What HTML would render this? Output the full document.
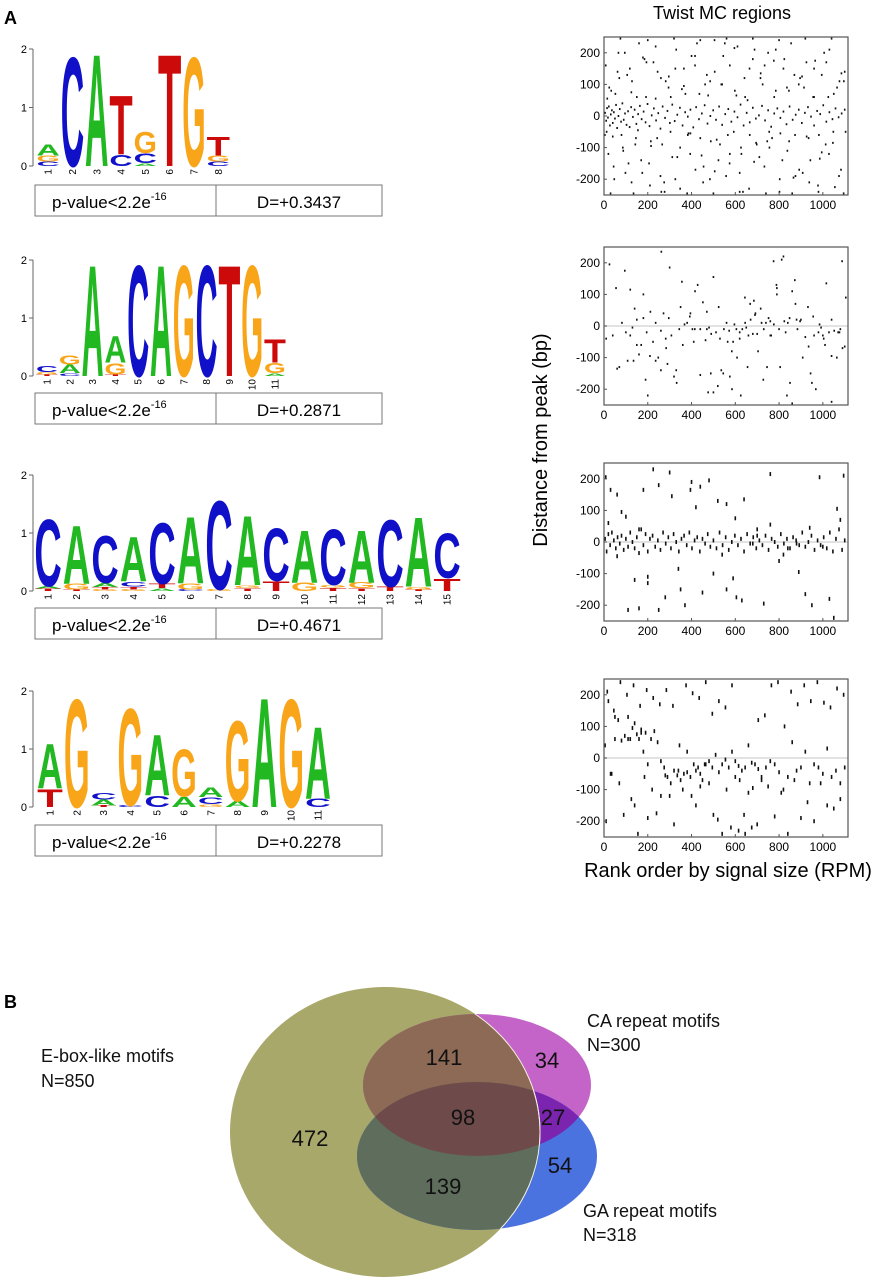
<!DOCTYPE html>
<html><head><meta charset="utf-8"><style>
html,body{margin:0;padding:0;background:#fff;}
svg{display:block;font-family:"Liberation Sans",sans-serif;}
</style></head><body>
<svg id="fig" width="887" height="1280" viewBox="0 0 887 1280" xmlns="http://www.w3.org/2000/svg">
<text x="4" y="24" font-size="18" font-weight="bold">A</text>
<text x="4" y="1008" font-size="18" font-weight="bold">B</text>
<text x="722" y="19" font-size="18" text-anchor="middle">Twist MC regions</text>
<text x="0" y="0" font-size="20" text-anchor="middle" transform="translate(547,440) rotate(-90)">Distance from peak (bp)</text>
<text x="728" y="877" font-size="20" text-anchor="middle">Rank order by signal size (RPM)</text>
<g id="logos"></g>
<g id="scatters"></g>
<g id="venn">
<defs>
<clipPath id="clipBig"><ellipse cx="385" cy="1132" rx="155" ry="145"/></clipPath>
<clipPath id="clipCA"><ellipse cx="477" cy="1085" rx="114" ry="71"/></clipPath>
<clipPath id="clipGA"><ellipse cx="477" cy="1156" rx="120" ry="74"/></clipPath>
</defs>
<ellipse cx="385" cy="1132" rx="155" ry="145" fill="#a8a86a"/>
<ellipse cx="477" cy="1085" rx="114" ry="71" fill="#c464c8"/>
<ellipse cx="477" cy="1156" rx="120" ry="74" fill="#4b73e0"/>
<g clip-path="url(#clipCA)"><ellipse cx="477" cy="1156" rx="120" ry="74" fill="#7a24b0"/></g>
<g clip-path="url(#clipBig)">
<ellipse cx="477" cy="1085" rx="114" ry="71" fill="#8d6a56"/>
<ellipse cx="477" cy="1156" rx="120" ry="74" fill="#5f6e5c"/>
<g clip-path="url(#clipCA)"><ellipse cx="477" cy="1156" rx="120" ry="74" fill="#6e4b4a"/></g>
</g>
<ellipse cx="385" cy="1132" rx="155" ry="145" fill="none" stroke="#f4f0e0" stroke-width="1" clip-path="url(#clipCA)"/>
<ellipse cx="385" cy="1132" rx="155" ry="145" fill="none" stroke="#f4f0e0" stroke-width="1" clip-path="url(#clipGA)"/>
<g font-size="22" text-anchor="middle" fill="#111">
<text x="444" y="1065">141</text>
<text x="547" y="1068">34</text>
<text x="463" y="1125">98</text>
<text x="553" y="1125">27</text>
<text x="310" y="1146">472</text>
<text x="560" y="1173">54</text>
<text x="443" y="1194">139</text>
</g>
<g font-size="18" fill="#111">
<text x="41" y="1062">E-box-like motifs</text>
<text x="41" y="1087">N=850</text>
<text x="587" y="1027">CA repeat motifs</text>
<text x="587" y="1051">N=300</text>
<text x="583" y="1217">GA repeat motifs</text>
<text x="583" y="1241">N=318</text>
</g>
</g>
</svg>
<script>
const NS='http://www.w3.org/2000/svg';
const BASE_COLORS={A:'#22b822',C:'#1010c8',G:'#f9a51a',T:'#cc0a0a'};
// motif logo columns: [letter, bits] bottom to top
const logo1Cols=[[['C',.08],['G',.1],['A',.2]],[['C',1.95]],[['A',2.0]],[['C',.2],['T',1.05]],[['A',.05],['C',.17],['G',.38]],[['T',2.0]],[['G',1.95]],[['C',.08],['G',.1],['T',.34]]];
const logo2Cols=[[['T',.03],['G',.04],['C',.1]],[['C',.05],['A',.15],['G',.16]],[['A',2.0]],[['T',.03],['G',.2],['A',.48]],[['C',2.0]],[['A',2.0]],[['G',2.0]],[['C',2.0]],[['T',2.0]],[['G',2.0]],[['A',.05],['G',.18],['T',.42]]];
const logo3Cols=[[['T',.04],['A',.05],['C',1.2]],[['T',.03],['G',.1],['A',1.05]],[['G',.03],['T',.04],['A',.07],['C',.85]],[['G',.03],['T',.05],['C',.08],['A',.8]],[['A',.05],['T',.08],['C',1.1]],[['C',.03],['G',.1],['A',1.2]],[['G',.03],['C',1.6]],[['T',.05],['G',.05],['A',1.25]],[['T',.17],['C',.95]],[['G',.15],['A',.95]],[['T',.06],['G',.05],['C',1.0]],[['T',.05],['G',.1],['A',.95]],[['T',.08],['C',1.2]],[['T',.03],['G',.05],['A',1.25]],[['T',.22],['C',.8]]];
const logo4Cols=[[['T',.32],['A',.8]],[['G',1.95]],[['T',.03],['A',.1],['C',.12]],[['C',.03],['G',1.75]],[['C',.2],['A',1.1]],[['A',.18],['G',.85]],[['G',.05],['C',.12],['A',.17]],[['A',.1],['G',1.45]],[['A',1.97]],[['G',1.95]],[['C',.15],['A',1.3]]];
const logoPvals=['p-value<2.2e','p-value<2.2e','p-value<2.2e','p-value<2.2e'];
const logoDvals=['D=+0.3437','D=+0.2871','D=+0.4671','D=+0.2278'];
const logoList=[logo1Cols,logo2Cols,logo3Cols,logo4Cols];
const logoGeom=[{left:36,w:24.3,y0:166,ppb:58.5,tb:185},{left:35.6,w:22.8,y0:376,ppb:58,tb:393},{left:33.8,w:28.5,y0:591,ppb:58,tb:608},{left:36.6,w:26.8,y0:807,ppb:58,tb:825}];

function mk(tag,attrs,parent){const e=document.createElementNS(NS,tag);for(const k in attrs)e.setAttribute(k,attrs[k]);parent.appendChild(e);return e;}
const logosG=document.getElementById('logos');
logoList.forEach((cols,li)=>{
  const g=logoGeom[li];
  const grp=mk('g',{},logosG);
  
  
  const yTop=g.y0-2*g.ppb;
  const ax=mk('path',{d:`M33,${yTop}V${g.y0}M29,${yTop}H33M29,${g.y0-g.ppb}H33M29,${g.y0}H33`,stroke:'#666','stroke-width':1,fill:'none'},grp);
  
  
  [0,1,2].forEach(b=>{const t=mk('text',{x:27,y:g.y0-b*g.ppb+4,'font-size':11,'text-anchor':'end'},grp);t.textContent=b;
    
    });
  cols.forEach((stack,ci)=>{
    let acc=0;const x=g.left+ci*g.w;
    stack.forEach(([L,h])=>{
      const hp=h*g.ppb;const yb=g.y0-acc*g.ppb;acc+=h;
      if(hp<0.5)return;
      const t=mk('text',{x:0,y:0,'font-size':100,'font-weight':'bold',textLength:70,lengthAdjust:'spacingAndGlyphs',fill:BASE_COLORS[L],transform:`translate(${x+g.w*0.02},${yb}) scale(${g.w*0.96/70},${hp/73})`},grp);
      t.textContent=L;
      
      
    });
    const n=mk('text',{x:0,y:0,'font-size':10,'text-anchor':'end',transform:`translate(${x+g.w/2+3.5},${g.y0+3}) rotate(-90)`},grp);
    n.textContent=ci+1;
    
    
  });
  const tb=mk('g',{},grp);
  
  
  mk('rect',{x:35,y:g.tb,width:347,height:31,fill:'#fff',stroke:'#777','stroke-width':1},tb);
  mk('line',{x1:216,y1:g.tb,x2:216,y2:g.tb+31,stroke:'#777','stroke-width':1},tb);
  const p=mk('text',{x:52,y:g.tb+23,'font-size':17},tb);
  p.textContent=logoPvals[li];
  
  
  const s=mk('tspan',{'font-size':11,dy:-8},p);s.textContent='-16';
  const d=mk('text',{x:299,y:g.tb+23,'font-size':17,'text-anchor':'middle'},tb);
  d.textContent=logoDvals[li];
  
  
});

// scatter data (rank, distance)
const rank1=[5,10,14,18,22,27,31,36,40,45,50,55,60,66,72,78,84,90,96,103,110,117,124,132,140,148,156,164,172,181,190,199,208,218,228,238,248,258,268,279,290,301,312,323,335,347,359,371,383,395,408,421,434,447,460,473,486,499,512,526,540,554,568,582,596,610,624,638,652,666,680,694,708,722,736,750,764,778,792,806,820,834,848,862,876,890,904,918,932,946,960,974,988,1002,1016,1030,1044,1058,1072,1086,1100,
8,20,33,47,62,80,95,112,128,143,160,175,192,210,226,243,260,277,295,312,330,348,365,383,400,418,436,453,470,488,505,523,540,558,575,593,610,628,645,663,680,698,715,733,750,768,785,803,820,838,855,873,890,908,925,943,960,978,995,1013,1030,1048,1065,1083,1100,
4,24,44,66,86,106,126,150,170,194,214,236,258,282,304,326,348,372,394,416,440,462,484,506,530,552,574,598,620,642,666,688,710,734,756,778,802,824,846,870,892,914,938,960,982,1006,1028,1050,1074,1096,
15,40,70,98,125,155,185,215,245,275,305,335,365,395,425,455,485,515,545,575,605,635,665,695,725,755,785,815,845,875,905,935,965,995,1025,1055,1085,
12,52,88,118,146,178,206,236,266,296,326,356,386,416,446,476,506,536,566,596,626,656,686,716,746,776,806,836,866,896,926,956,986,1016,1046,1076,1104,
30,75,135,200,262,320,380,440,500,560,620,680,740,800,860,920,980,1040,1095];
const dist1=[10,-15,25,-5,30,-30,5,18,-22,12,-8,35,-38,0,22,-18,40,-12,8,-28,15,-35,28,-3,20,-25,6,32,-10,14,-20,38,-32,2,24,-14,9,-40,30,-6,16,-22,36,-16,4,26,-30,12,-2,20,-36,28,-10,8,34,-24,0,18,-12,30,-28,6,22,-18,14,-4,36,-30,10,-20,26,-8,2,32,-14,18,-34,8,24,-6,14,-26,30,-12,4,20,-22,10,28,-2,-30,16,6,34,-18,12,-10,24,-4,8,20,
160,-120,80,-200,140,-60,200,-150,110,-90,230,-180,60,-220,170,-70,120,-240,90,-130,210,-100,150,-60,190,-170,70,-210,130,-80,240,-140,100,-190,160,-50,220,-120,60,-230,180,-90,120,-160,200,-70,80,-200,150,-110,230,-60,100,-180,170,-140,60,-220,130,-90,210,-50,90,-170,140,
-60,90,-160,200,-100,130,-210,60,-140,170,-80,220,-190,110,-50,150,-230,70,-120,190,-70,100,-200,140,-90,230,-150,80,-180,120,-60,210,-130,160,-100,60,-240,180,-80,130,-170,90,-210,150,-60,200,-120,70,-190,110,
55,-65,120,-180,75,-45,180,-95,140,-210,60,-130,95,-55,230,-160,110,-75,190,-120,65,-240,150,-85,100,-50,210,-140,80,-190,125,-70,175,-115,60,-225,135,
-50,70,-110,150,-70,185,-150,55,-90,125,-200,85,-55,160,-125,65,-175,100,-60,215,-100,50,-145,135,-80,175,-55,90,-195,120,-65,60,-135,170,-85,110,-50,
-245,245,-245,240,-240,245,-245,240,-245,245,-240,245,-245,240,-245,245,-240,245,-245];
const rank2=[10,25,40,55,70,82,95,108,120,130,140,150,160,170,180,190,200,212,224,236,248,260,272,284,296,308,320,332,344,356,368,380,392,404,416,428,440,452,464,476,488,500,512,524,536,548,560,572,584,596,608,620,632,644,656,668,680,692,704,716,728,740,752,764,776,788,800,812,824,836,848,860,872,884,896,908,920,932,944,956,968,980,992,1004,1016,1028,1040,1052,1064,1076,1088,1100,
120,135,180,195,210,236,262,282,300,330,360,395,415,440,470,480,490,500,520,545,565,575,585,605,625,645,660,685,700,720,745,760,775,790,805,820,840,850,860,875,900,935,960,985,1010,1040,1070,1090,1105,
60,100,150,260,290,350,410,470,530,590,620,650,670,690,730,760,790,830,880,950,1000,1040,1080];
const dist2=[-40,195,-30,120,-130,10,175,-110,115,-5,55,20,-90,-60,100,-170,-220,45,-50,10,-100,-15,40,-70,25,-30,-160,-180,-10,140,5,10,30,-10,110,130,-10,75,-45,-210,-150,155,-20,60,-140,-10,10,-15,-80,5,-100,-40,-10,90,-130,70,-25,40,-80,55,-170,10,25,-30,5,130,-10,210,15,-220,25,110,145,-10,15,-100,-35,60,-150,30,-200,-20,-5,-40,135,-20,-240,-15,-100,-20,205,-65,-30,-110,
25,-20,-95,-110,235,-40,185,-140,-60,40,-10,-155,45,-5,-25,-210,-190,-150,-50,-160,-200,-10,-220,10,-30,80,-25,10,-130,-30,205,100,-130,220,10,-180,-245,70,20,-65,-30,5,-60,-95,-20,-70,90,-135,-20,
-60,-140,-120,60,-50,-10,-40,-50,-20,-5,20,35,-10,15,120,-20,20,-180,-30,20,-10,-240,-190];
const rank3=[5,12,20,28,36,45,54,62,72,80,90,100,110,120,130,140,150,160,170,180,190,200,210,222,234,246,258,270,282,294,306,318,330,342,354,366,378,390,402,414,426,438,450,462,474,486,500,514,528,542,556,570,584,598,612,626,640,654,668,682,696,710,724,738,752,766,780,794,808,822,836,850,864,878,892,906,920,934,948,962,976,990,1004,1018,1032,1046,1060,1074,1088,1100,
8,30,60,80,100,140,160,180,200,225,250,280,310,340,370,395,420,450,500,540,560,590,605,630,680,700,730,760,800,840,890,920,950,985,1030,1050,1065,1080,1095,
20,60,110,160,200,250,300,350,400,440,480,520,560,600,640,700,760,820,880,940,1000];
const dist3=[10,-30,25,-10,30,5,-20,15,-5,20,-25,10,-15,30,0,-20,15,-35,40,-10,25,-30,10,20,-15,5,-25,30,-5,15,-20,25,0,-30,10,20,-10,30,-20,5,15,-30,10,-5,25,-15,5,-20,30,-10,15,-25,0,20,-10,10,-30,25,-5,15,-20,5,-10,20,-25,10,0,-15,25,-5,10,-20,15,5,-10,30,-15,0,20,-25,5,-10,15,-20,30,-30,10,40,-25,5,
205,165,150,95,80,-120,-210,165,-130,230,180,-175,145,-85,-200,165,110,-160,-100,-40,120,-115,-175,-185,-5,20,-195,215,-60,-20,-95,-165,-200,205,-180,-240,105,70,210,
60,-45,-215,40,-110,-215,220,-150,190,175,195,130,-150,75,135,40,55,-40,-5,45,-15];
const rank4=[5,20,35,50,65,80,95,110,120,130,140,150,160,170,180,190,200,215,230,245,260,275,290,305,320,335,350,365,380,395,410,420,430,440,450,465,480,495,510,525,540,555,570,585,600,615,630,645,660,675,690,705,720,740,760,780,800,820,840,860,880,900,920,940,960,980,1000,1020,1040,1060,1080,1100,
10,30,50,70,90,110,125,140,155,170,185,200,220,240,260,280,300,320,340,360,380,400,420,440,460,480,500,520,540,560,580,600,620,640,660,680,700,720,750,780,810,840,870,900,930,960,990,1020,1050,1080,
15,45,75,105,135,165,195,225,255,285,315,345,375,405,435,465,495,525,555,585,615,645,675,705,735,765,795,825,855,885,915,945,975,1005,1035,1065,1095];
const dist4=[40,180,-50,60,120,55,70,130,60,95,110,75,60,90,20,80,-20,60,85,50,-10,-30,-60,-80,-40,-55,-70,-50,-45,-60,-20,-40,-30,-50,-70,-20,-10,-30,10,-45,-20,-5,-30,20,-10,-25,-40,-30,40,-15,-20,-35,-60,-30,-10,-20,-45,-100,-60,50,-40,-30,20,-80,-20,-30,-50,30,-60,-40,-80,-30,
-200,-50,130,-80,-180,60,-130,-150,-240,80,-60,-190,-100,-175,-120,-55,-120,-210,-40,-100,20,-120,-150,-90,-20,-80,-180,-195,-240,-100,-220,-60,-70,-180,-110,-95,-210,-70,-90,-185,-110,-240,-70,-190,-140,-200,-80,-150,-160,-130,
210,150,240,200,230,165,215,190,170,215,165,40,230,205,190,240,140,180,160,230,-230,-240,-220,120,135,230,240,100,210,170,230,180,240,175,160,220,200];

const panels=[{top:37,xs:rank1,ys:dist1,mh:2,zero:false},{top:247,xs:rank2,ys:dist2,mh:2,zero:true},{top:463,xs:rank3,ys:dist3,mh:4,zero:true},{top:679,xs:rank4,ys:dist4,mh:4,zero:true}];
const xTicks=[0,200,400,600,800,1000];
const yTicks=[-200,-100,0,100,200];
const PX0=604,PX1=848,XMAX=1115,PH=158;
const sc=document.getElementById('scatters');
panels.forEach((p,pi)=>{
  const g=mk('g',{},sc);
  
  
  const xS=v=>PX0+(v/XMAX)*(PX1-PX0);
  const yS=v=>p.top+PH/2-(v/250)*(PH/2);
  if(p.zero){const z=mk('line',{x1:PX0,x2:PX1,y1:yS(0),y2:yS(0),stroke:'#d8d8d8','stroke-width':1.5},g);
    
    }
  p.xs.forEach((xv,i)=>{
    const r=mk('rect',{x:xS(xv)-0.8,y:yS(p.ys[i])-p.mh/2,width:1.6,height:p.mh,fill:'#111'},g);
    
    
  });
  const box=mk('rect',{x:PX0,y:p.top,width:PX1-PX0,height:PH,fill:'none',stroke:'#555','stroke-width':1.2},g);
  
  
  xTicks.forEach(t=>{
    mk('line',{x1:xS(t),x2:xS(t),y1:p.top+PH,y2:p.top+PH-3,stroke:'#555'},g);
    const l=mk('text',{x:xS(t),y:p.top+PH+14,'font-size':12,'text-anchor':'middle'},g);
    l.textContent=t;
    
    
  });
  yTicks.forEach(t=>{
    mk('line',{x1:PX0,x2:PX0+3,y1:yS(t),y2:yS(t),stroke:'#555'},g);
    const l=mk('text',{x:PX0-4,y:yS(t)+4,'font-size':12,'text-anchor':'end'},g);
    l.textContent=t;
    
    
  });
});
</script>
</body></html>
